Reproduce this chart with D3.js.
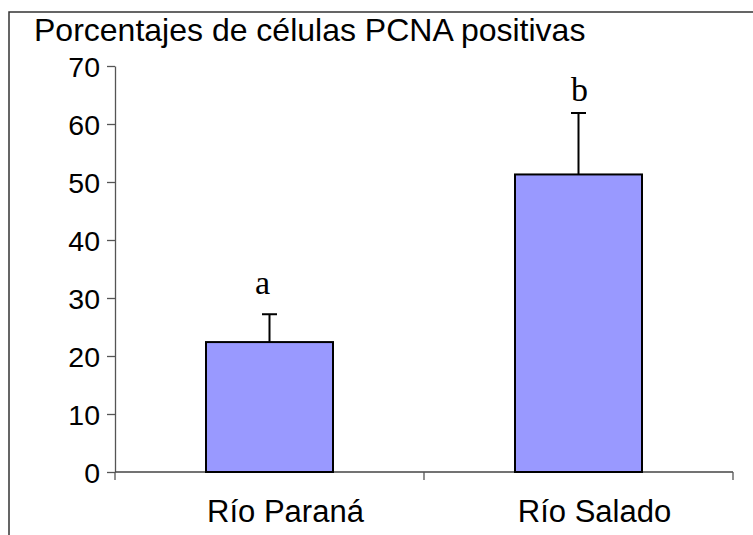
<!DOCTYPE html>
<html>
<head>
<meta charset="utf-8">
<script src="https://cdn.jsdelivr.net/npm/d3@7"></script>
<style>
  body { margin: 0; background: #fff; }
  text { font-family: Arial, 'Liberation Sans', sans-serif; }
</style>
</head>
<body>
<div id="chart"></div>
<script>
let categories = ['Río Paraná', 'Río Salado']
let means = [22.4, 51.3]
let errors = [4.8, 10.6]
let letters = ['a', 'b']
let letterPos = [30.7, 63.9] // letter baselines, in data units
let yTicks = [0, 10, 20, 30, 40, 50, 60, 70]

let width = 753
let height = 535
let margin = { left: 115, right: 20, top: 66, bottom: 63 }

let svg = d3
  .select('#chart')
  .append('svg')
  .attr('width', width)
  .attr('height', height)

// outer frame, runs off the right and bottom edges
svg
  .append('rect')
  .attr('x', 9)
  .attr('y', 12)
  .attr('width', width)
  .attr('height', height)
  .attr('fill', 'none')
  .attr('stroke', '#333')
  .attr('stroke-width', 1.5)

let x = d3
  .scaleBand()
  .domain(categories)
  .range([margin.left, width - margin.right])
  .paddingInner(0.589)
  .paddingOuter(0.2945)

let y = d3
  .scaleLinear()
  .domain([0, 70])
  .range([height - margin.bottom, margin.top])

let step = x.step()

// y axis
let yAxis = svg
  .append('g')
  .attr('transform', 'translate(' + margin.left + ',0)')
  .call(d3.axisLeft(y).tickValues(yTicks).tickSize(8).tickPadding(7).tickSizeOuter(0))
yAxis.select('.domain').attr('stroke', '#555').attr('stroke-width', 1.3)
yAxis.selectAll('.tick line').attr('stroke', '#555').attr('stroke-width', 1.3)
yAxis
  .selectAll('.tick text')
  .attr('fill', '#000')
  .style('font-size', '28.5px')
  .attr('dy', '0.36em')

// x axis with ticks on category boundaries
let xg = svg.append('g')
xg.append('line')
  .attr('x1', x.range()[0])
  .attr('x2', x.range()[1])
  .attr('y1', y(0))
  .attr('y2', y(0))
  .attr('stroke', '#444')
  .attr('stroke-width', 1.3)
let bounds = d3.range(categories.length + 1).map(i => x.range()[0] + i * step)
xg.selectAll('line.tick')
  .data(bounds)
  .enter()
  .append('line')
  .attr('class', 'tick')
  .attr('x1', d => d)
  .attr('x2', d => d)
  .attr('y1', y(0))
  .attr('y2', y(0) + 8)
  .attr('stroke', '#555')
  .attr('stroke-width', 1.3)

// category labels sit a little right of the bar centres
xg.selectAll('text.cat')
  .data(categories)
  .enter()
  .append('text')
  .attr('class', 'cat')
  .attr('x', d => x(d) + x.bandwidth() / 2 + 16)
  .attr('y', 522)
  .attr('text-anchor', 'middle')
  .style('font-size', '31px')
  .text(d => d)

// error bars (upper only)
let eb = svg.append('g')
categories.forEach((c, i) => {
  let cx = x(c) + x.bandwidth() / 2
  eb.append('line')
    .attr('x1', cx)
    .attr('x2', cx)
    .attr('y1', y(means[i]))
    .attr('y2', y(means[i] + errors[i]))
    .attr('stroke', '#000')
    .attr('stroke-width', 2)
  eb.append('line')
    .attr('x1', cx - 7.5)
    .attr('x2', cx + 7.5)
    .attr('y1', y(means[i] + errors[i]))
    .attr('y2', y(means[i] + errors[i]))
    .attr('stroke', '#000')
    .attr('stroke-width', 2)
})

// bars
svg
  .append('g')
  .selectAll('rect')
  .data(categories)
  .enter()
  .append('rect')
  .attr('x', d => x(d))
  .attr('y', (d, i) => y(means[i]))
  .attr('width', x.bandwidth())
  .attr('height', (d, i) => y(0) - y(means[i]))
  .attr('fill', '#9999ff')
  .attr('stroke', '#000')
  .attr('stroke-width', 2)

// significance letters
svg
  .append('g')
  .selectAll('text')
  .data(letters)
  .enter()
  .append('text')
  .attr('x', (d, i) => x(categories[i]) + x.bandwidth() / 2 + (i === 0 ? -7 : 1))
  .attr('y', (d, i) => y(letterPos[i]))
  .attr('text-anchor', 'middle')
  .style('font-family', "'Liberation Serif', 'Times New Roman', serif")
  .style('font-size', '34px')
  .text(d => d)

// title
svg
  .append('text')
  .attr('x', 34)
  .attr('y', 41)
  .style('font-size', '32px')
  .text('Porcentajes de células PCNA positivas')
</script>
</body>
</html>
